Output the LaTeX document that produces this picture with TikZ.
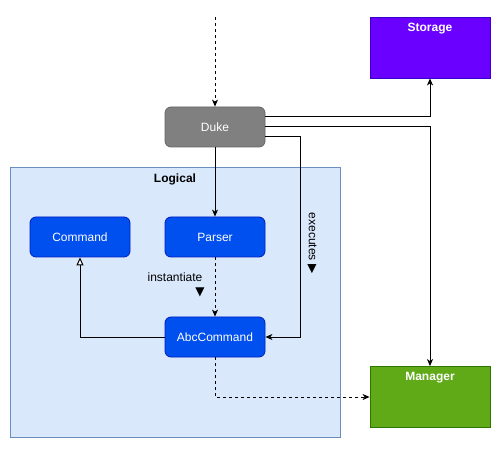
\documentclass[tikz,border=0pt]{standalone}
\usepackage{fontspec}
\setmainfont{Liberation Sans}
\newfontfamily\djv{DejaVu Sans}
\usetikzlibrary{arrows.meta}
\definecolor{bluefill}{HTML}{0050EF}
\definecolor{blueline}{HTML}{001DBC}
\definecolor{grayfill}{HTML}{808080}
\definecolor{grayline}{HTML}{666666}
\definecolor{purplefill}{HTML}{6A00FF}
\definecolor{purpleline}{HTML}{3700CC}
\definecolor{greenfill}{HTML}{60A917}
\definecolor{greenline}{HTML}{2D7600}
\definecolor{contfill}{HTML}{DAE8FC}
\definecolor{contline}{HTML}{6C8EBF}
\tikzset{
  cls/.style={rectangle, rounded corners=6pt, minimum width=100pt, minimum height=40pt, text=white, font=\fontsize{12}{14}\selectfont, line width=0.8pt, inner sep=0pt},
  bluebox/.style={cls, fill=bluefill, draw=blueline},
  graybox/.style={cls, fill=grayfill, draw=grayline},
  compbox/.style={rectangle, minimum width=120pt, minimum height=61pt, line width=0.8pt, inner sep=0pt},
  conn/.style={line width=1pt, -{Stealth[length=7pt,width=6pt,inset=2pt]}},
  dconn/.style={conn, dash pattern=on 3pt off 3pt},
  inh/.style={line width=1pt, -{Triangle[open,length=8pt,width=7pt,fill=white]}},
  lbl/.style={font=\fontsize{12}{15}\selectfont, inner sep=0pt, align=center},
}
\begin{document}
\begin{tikzpicture}[x=1pt,y=-1pt]
\useasboundingbox (0,0) rectangle (501,449);
\fill[white] (0,0) rectangle (501,449);
% container
\node[rectangle, fill=contfill, draw=contline, line width=0.8pt, minimum width=330pt, minimum height=270pt, inner sep=0pt,
  label={[anchor=north, yshift=-4pt, font=\bfseries\fontsize{12}{14}\selectfont]north:Logical}] (logical) at (175,302) {};
% components
\node[compbox, fill=purplefill, draw=purpleline,
  label={[anchor=north, yshift=-3pt, text=white, font=\bfseries\fontsize{12}{14}\selectfont]north:Storage}] (storage) at (430,47.5) {};
\node[compbox, fill=greenfill, draw=greenline,
  label={[anchor=north, yshift=-3pt, text=white, font=\bfseries\fontsize{12}{14}\selectfont]north:Manager}] (manager) at (430,397) {};
% classes
\node[graybox] (duke) at (215,127) {Duke};
\node[bluebox] (command) at (80,237) {Command};
\node[bluebox] (parser) at (215,237) {Parser};
\node[bluebox] (abc) at (215,337) {AbcCommand};
\coordinate (entry) at (215,17);
% connectors
\draw[dconn] (entry) -- (duke.north);
\draw[conn] (duke.south) -- (parser.north);
\draw[dconn] (parser.south) -- (abc.north);
\draw[inh] (abc.west) -| (command.south);
\draw[conn] ([yshift=10pt]duke.east) -| (storage.south);
\draw[conn] (duke.east) -| (manager.north);
\draw[conn] ([yshift=-10pt]duke.east) -| (300,337) -- (abc.east);
\draw[dconn] (abc.south) |- (manager.west);
% labels
\node[lbl] (instlbl) at (175,285) {instantiate\\[-1pt]\hspace*{50pt}{\djv\fontsize{12}{14}\selectfont▼}};
\node[lbl, rotate=-90] (execlbl) at (312,243) {executes {\djv▶}};
\end{tikzpicture}
\end{document}
